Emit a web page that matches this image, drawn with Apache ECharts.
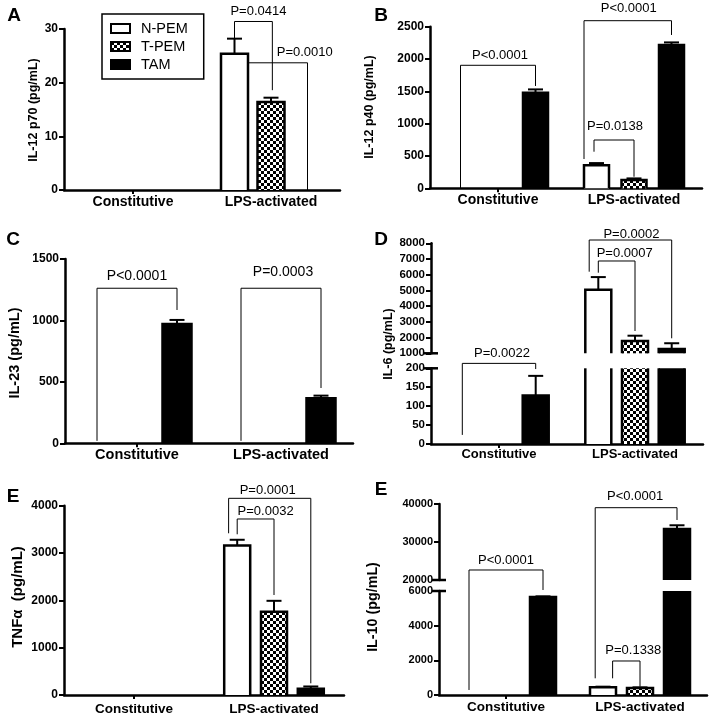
<!DOCTYPE html>
<html><head><meta charset="utf-8">
<script src="https://cdn.jsdelivr.net/npm/echarts@6/dist/echarts.min.js"></script>
<style>html,body{margin:0;padding:0;background:#fff}#c{width:714px;height:719px}</style>
</head><body><div id="c"></div>
<script>
const FONT = '"Liberation Sans", Arial, Helvetica, sans-serif';
const categories = ['Constitutive', 'LPS-activated'];
const groups = ['N-PEM', 'T-PEM', 'TAM'];

// A: IL-12 p70 (pg/mL)
const il12p70_npem = [0, 25.4], il12p70_npem_err = [0, 2.8];
const il12p70_tpem = [0, 16.4], il12p70_tpem_err = [0, 0.8];
const il12p70_tam  = [0, 0],    il12p70_tam_err  = [0, 0];
// B: IL-12 p40 (pg/mL)
const il12p40_npem = [0, 355],     il12p40_npem_err = [0, 35];
const il12p40_tpem = [0, 128],     il12p40_tpem_err = [0, 25];
const il12p40_tam  = [1480, 2215], il12p40_tam_err  = [50, 42];
// C: IL-23 (pg/mL)
const il23_npem = [0, 0],     il23_npem_err = [0, 0];
const il23_tpem = [0, 0],     il23_tpem_err = [0, 0];
const il23_tam  = [971, 366], il23_tam_err  = [33, 22];
// D: IL-6 (pg/mL)
const il6_npem = [0, 5050],   il6_npem_err = [0, 800];
const il6_tpem = [0, 1790],   il6_tpem_err = [0, 330];
const il6_tam  = [128, 1280], il6_tam_err  = [52, 360];
// E: TNFa (pg/mL)
const tnf_npem = [0, 3160], tnf_npem_err = [0, 120];
const tnf_tpem = [0, 1760], tnf_tpem_err = [0, 230];
const tnf_tam  = [0, 130],  tnf_tam_err  = [0, 50];
// E: IL-10 (pg/mL)
const il10_npem = [0, 450],      il10_npem_err = [0, 30];
const il10_tpem = [0, 400],      il10_tpem_err = [0, 40];
const il10_tam  = [5650, 33400], il10_tam_err  = [40, 1000];

// y axis ranges [min, max, interval]
const axA = [0, 30, 10];
const axB = [0, 2500, 500];
const axC = [0, 1500, 500];
const axD_low = [0, 200, 50], axD_up = [1000, 8000, 1000];
const axE1 = [0, 4000, 1000];
const axE2_low = [0, 6000, 2000], axE2_up = [20000, 40000, 10000];

// significance brackets: x = [category, bar, offset in bar widths], y = [segment, value]
const brA = [
  {p: 'P=0.0414', l: [1, 0, 0], r: [1, 1, 0.05], top: [0, 31.4], lEnd: [0, 28.3], rEnd: [0, 18.6], dx: 5, gap: 9.7},
  {p: 'P=0.0010', l: [1, 0, 0.5], r: [1, 2, 0], top: [0, 23.7], lEnd: null, rEnd: [0, 0], dx: 27, gap: 10}
];
const brB = [
  {p: 'P<0.0001', l: [0, 0, 0], r: [0, 2, 0], top: [0, 1903], lEnd: [0, 0], rEnd: [0, 1583], dx: 2, gap: 10.3},
  {p: 'P<0.0001', l: [1, 0, -0.5], r: [1, 2, 0], top: [0, 2593], lEnd: [0, 453], rEnd: [0, 2372], dx: 1, gap: 12.4},
  {p: 'P=0.0138', l: [1, 0, -0.1], r: [1, 1, 0], top: [0, 747], lEnd: [0, 566], rEnd: [0, 179], dx: 1, gap: 14}
];
const brC = [
  {p: 'P<0.0001', l: [0, 0, 0], r: [0, 2, 0], top: [0, 1262], lEnd: [0, 20], rEnd: [0, 1085], dx: 0, gap: 11.7},
  {p: 'P=0.0003', l: [1, 0, 0], r: [1, 2, 0], top: [0, 1262], lEnd: [0, 20], rEnd: [0, 450], dx: 2, gap: 15.7}
];
const brD = [
  {p: 'P=0.0022', l: [0, 0, 0], r: [0, 2, 0], top: [0, 213], lEnd: [0, 24], rEnd: [0, 198], dx: 3, gap: 10},
  {p: 'P=0.0007', l: [1, 0, 0], r: [1, 1, 0], top: [1, 6874], lEnd: [1, 6129], rEnd: [1, 2419], dx: 8, gap: 7.7},
  {p: 'P=0.0002', l: [1, 0, -0.35], r: [1, 2, 0], top: [1, 8210], lEnd: [1, 6193], rEnd: [1, 1955], dx: 1, gap: 6}
];
const brE1 = [
  {p: 'P=0.0032', l: [1, 0, 0], r: [1, 1, 0], top: [0, 3719], lEnd: [0, 3396], rEnd: [0, 2113], dx: 10, gap: 7.3},
  {p: 'P=0.0001', l: [1, 0, -0.33], r: [1, 2, 0], top: [0, 4156], lEnd: [0, 3417], rEnd: [0, 247], dx: -2, gap: 8.3}
];
const brE2 = [
  {p: 'P<0.0001', l: [0, 0, 0], r: [0, 2, 0], top: [0, 7212], lEnd: [0, 290], rEnd: [0, 6058], dx: 0, gap: 10},
  {p: 'P<0.0001', l: [1, 0, -0.3], r: [1, 2, 0], top: [1, 39026], lEnd: [0, 963], rEnd: [1, 35790], dx: -1, gap: 11},
  {p: 'P=0.1338', l: [1, 0, 0.37], r: [1, 1, 0], top: [0, 1962], lEnd: [0, 963], rEnd: [0, 480], dx: 7, gap: 11}
];

// checker pattern for T-PEM
const pc = document.createElement('canvas');
pc.width = 6; pc.height = 6;
const pctx = pc.getContext('2d');
pctx.fillStyle = '#fff'; pctx.fillRect(0, 0, 6, 6);
pctx.fillStyle = '#000'; pctx.fillRect(0, 0, 3, 3); pctx.fillRect(3, 3, 3, 3);
const checker = {image: pc, repeat: 'repeat'};
const fills = ['#fff', checker, '#000'];

const panels = [
  {letter: 'A', letterPos: [14, 16], title: 'IL-12 p70 (pg/mL)', titlePos: [34, 110], titleFs: 12.5, catFs: 14, catMargin: 5, pFs: 13, barW: 27, step: 36.5,
   data: [[il12p70_npem, il12p70_npem_err], [il12p70_tpem, il12p70_tpem_err], [il12p70_tam, il12p70_tam_err]],
   segs: [{grid: {left: 64, top: 29, width: 276, height: 161}, ax: axA, showX: true}], fs: 12, brackets: brA},
  {letter: 'B', letterPos: [381, 16], title: 'IL-12 p40 (pg/mL)', titlePos: [370, 107], titleFs: 12.5, catFs: 14, catMargin: 4.5, pFs: 13, barW: 25, step: 37.5,
   data: [[il12p40_npem, il12p40_npem_err], [il12p40_tpem, il12p40_tpem_err], [il12p40_tam, il12p40_tam_err]],
   segs: [{grid: {left: 430, top: 26.7, width: 272, height: 161.6}, ax: axB, showX: true}], fs: 12, brackets: brB},
  {letter: 'C', letterPos: [13, 240], title: 'IL-23 (pg/mL)', titlePos: [15, 353], titleFs: 14.5, catFs: 14.5, catMargin: 4, pFs: 14, barW: 29, step: 40,
   data: [[il23_npem, il23_npem_err], [il23_tpem, il23_tpem_err], [il23_tam, il23_tam_err]],
   segs: [{grid: {left: 65, top: 259, width: 288, height: 184.3}, ax: axC, showX: true}], fs: 12, brackets: brC},
  {letter: 'D', letterPos: [381, 240], title: 'IL-6 (pg/mL)', titlePos: [389, 344], titleFs: 12.5, catFs: 13, catMargin: 3.5, pFs: 13, barW: 26, step: 36.7,
   data: [[il6_npem, il6_npem_err], [il6_tpem, il6_tpem_err], [il6_tam, il6_tam_err]],
   segs: [{grid: {left: 431, top: 368.3, width: 272, height: 75.7}, ax: axD_low, showX: true},
          {grid: {left: 431, top: 243.3, width: 272, height: 110}, ax: axD_up, showX: false}], fs: 11.5, brackets: brD, broken: true},
  {letter: 'E', letterPos: [13, 497], title: 'TNFα  (pg/mL)', titlePos: [18, 597], titleFs: 15, catFs: 13.5, catMargin: 7, pFs: 13, barW: 26, step: 36.8,
   data: [[tnf_npem, tnf_npem_err], [tnf_tpem, tnf_tpem_err], [tnf_tam, tnf_tam_err]],
   segs: [{grid: {left: 64, top: 505.7, width: 280, height: 189.3}, ax: axE1, showX: true}], fs: 12, brackets: brE1},
  {letter: 'E', letterPos: [381, 490], title: 'IL-10 (pg/mL)', titlePos: [373, 607], titleFs: 14.3, catFs: 13.5, catMargin: 5, pFs: 13, barW: 26, step: 37,
   data: [[il10_npem, il10_npem_err], [il10_tpem, il10_tpem_err], [il10_tam, il10_tam_err]],
   segs: [{grid: {left: 439, top: 591, width: 268, height: 104}, ax: axE2_low, showX: true},
          {grid: {left: 439, top: 504, width: 268, height: 76}, ax: axE2_up, showX: false}], fs: 11, brackets: brE2, broken: true}
];

function makeRender(panel, gi) {
  return function (params, api) {
    const cat = api.value(0), val = api.value(1), err = api.value(2);
    if (!(val > 0)) return null;
    const cs = params.coordSys;
    const c = api.coord([cat, val]);
    const b = api.coord([cat, 0]);
    const W = panel.barW;
    const cx = c[0] + (gi - 1) * panel.step;
    const x = cx - W / 2;
    const yb = Math.min(b[1], cs.y + cs.height);
    const yt = Math.max(c[1], cs.y);
    const children = [];
    const lw = 2.5;
    if (yt < yb) {
      children.push({type: 'rect', shape: {x: x, y: yt, width: W, height: yb - yt}, style: {fill: fills[gi], stroke: 'none'}});
      if (c[1] >= cs.y) {
        children.push({type: 'polyline', shape: {points: [[x, yb], [x, yt], [x + W, yt], [x + W, yb]]}, style: {stroke: '#000', lineWidth: lw, fill: 'none'}});
      } else {
        children.push({type: 'line', shape: {x1: x, y1: yb, x2: x, y2: yt}, style: {stroke: '#000', lineWidth: lw}});
        children.push({type: 'line', shape: {x1: x + W, y1: yb, x2: x + W, y2: yt}, style: {stroke: '#000', lineWidth: lw}});
      }
    }
    if (err > 0) {
      const e = api.coord([cat, val + err]);
      if (c[1] <= cs.y + cs.height + 0.5 && c[1] >= cs.y - 0.5 && e[1] >= cs.y - 0.5) {
        children.push({type: 'line', shape: {x1: cx, y1: c[1], x2: cx, y2: e[1]}, style: {stroke: '#000', lineWidth: 2}});
        children.push({type: 'line', shape: {x1: cx - 7.5, y1: e[1], x2: cx + 7.5, y2: e[1]}, style: {stroke: '#000', lineWidth: 2}});
      }
    }
    return {type: 'group', children: children};
  };
}

const grid = [], xAxis = [], yAxis = [], series = [];
panels.forEach(function (panel) {
  panel.gridIdx = [];
  panel.segs.forEach(function (seg) {
    const gIdx = grid.length;
    panel.gridIdx.push(gIdx);
    grid.push(Object.assign({containLabel: false, outerBoundsMode: 'none'}, seg.grid));
    xAxis.push({
      type: 'category', gridIndex: gIdx, data: categories, show: seg.showX,
      axisLine: {show: true, lineStyle: {color: '#000', width: 2.5}},
      axisTick: {show: true, alignWithLabel: true, length: 4, lineStyle: {color: '#000', width: 2}, interval: function (i) { return i === 0; }},
      axisLabel: {color: '#000', fontWeight: 'bold', fontSize: panel.catFs, fontFamily: FONT, margin: panel.catMargin},
      splitLine: {show: false}
    });
    yAxis.push({
      type: 'value', gridIndex: gIdx, min: seg.ax[0], max: seg.ax[1], interval: seg.ax[2],
      axisLine: {show: true, lineStyle: {color: '#000', width: 2.5}},
      axisTick: {show: true, length: 5, lineStyle: {color: '#000', width: 2}},
      axisLabel: {color: '#000', fontWeight: 'bold', fontSize: panel.fs, fontFamily: FONT, margin: 6,
                  formatter: function (v) { return String(v); }},
      splitLine: {show: false}
    });
    panel.data.forEach(function (d, gi) {
      series.push({
        type: 'custom', name: groups[gi], xAxisIndex: gIdx, yAxisIndex: gIdx, silent: true, clip: false,
        encode: {x: 0, y: 1},
        data: categories.map(function (c, i) { return [i, d[0][i], d[1][i]]; }),
        renderItem: makeRender(panel, gi)
      });
    });
  });
});

const chart = echarts.init(document.getElementById('c'), null, {renderer: 'canvas'});
chart.setOption({
  animation: false,
  backgroundColor: '#fff',
  grid: grid, xAxis: xAxis, yAxis: yAxis, series: series,
  legend: {
    orient: 'vertical', left: 102, top: 14, itemWidth: 19, itemHeight: 9, itemGap: 3,
    padding: [7, 16, 7, 8], borderColor: '#000', borderWidth: 1.5, icon: 'rect', selectedMode: false,
    textStyle: {fontSize: 14.5, color: '#000', fontFamily: FONT, padding: [0, 0, 0, 6]},
    data: [
      {name: 'N-PEM', itemStyle: {color: '#fff', borderColor: '#000', borderWidth: 2}},
      {name: 'T-PEM', itemStyle: {color: checker, borderColor: '#000', borderWidth: 2}},
      {name: 'TAM', itemStyle: {color: '#000', borderColor: '#000', borderWidth: 2}}
    ]
  }
});

// annotations computed through the axes
const gfx = [];
function txt(x, y, s, size, bold, rot) {
  const el = {type: 'text', x: x, y: y, silent: true, style: {
    text: s, fill: '#000', font: (bold ? 'bold ' : '') + size + 'px ' + FONT,
    align: 'center', verticalAlign: 'middle', textAlign: 'center', textVerticalAlign: 'middle'}};
  if (rot) el.rotation = rot;
  return el;
}
panels.forEach(function (panel) {
  gfx.push(txt(panel.letterPos[0], panel.letterPos[1], panel.letter, 19, true));
  gfx.push(txt(panel.titlePos[0], panel.titlePos[1], panel.title, panel.titleFs, true, Math.PI / 2));
  const px = function (xs, ys) {
    const g = panel.gridIdx[ys[0]];
    const p = chart.convertToPixel({gridIndex: g}, [xs[0], ys[1]]);
    return [p[0] + (xs[1] - 1) * panel.step + xs[2] * panel.barW, p[1]];
  };
  panel.brackets.forEach(function (br) {
    const tl = px(br.l, br.top), tr = px(br.r, br.top);
    const pts = [];
    if (br.lEnd) pts.push([tl[0], px(br.l, br.lEnd)[1]]);
    pts.push(tl, tr);
    if (br.rEnd) pts.push([tr[0], px(br.r, br.rEnd)[1]]);
    gfx.push({type: 'polyline', silent: true, shape: {points: pts}, style: {stroke: '#000', lineWidth: 1, fill: 'none'}});
    gfx.push(txt((tl[0] + tr[0]) / 2 + br.dx, tl[1] - br.gap, br.p, panel.pFs, false));
  });
  if (panel.broken) {
    const lowG = panel.gridIdx[0], upG = panel.gridIdx[1];
    const lo = panel.segs[0].ax, up = panel.segs[1].ax;
    const p1 = chart.convertToPixel({gridIndex: lowG}, [0, lo[1]]);
    const p2 = chart.convertToPixel({gridIndex: upG}, [0, up[0]]);
    const ax = panel.segs[0].grid.left;
    [p1[1], p2[1]].forEach(function (y) {
      gfx.push({type: 'line', silent: true, shape: {x1: ax - 7, y1: y, x2: ax + 7, y2: y}, style: {stroke: '#000', lineWidth: 2.5}});
    });
  }
});
chart.setOption({graphic: {elements: gfx}});
</script></body></html>
